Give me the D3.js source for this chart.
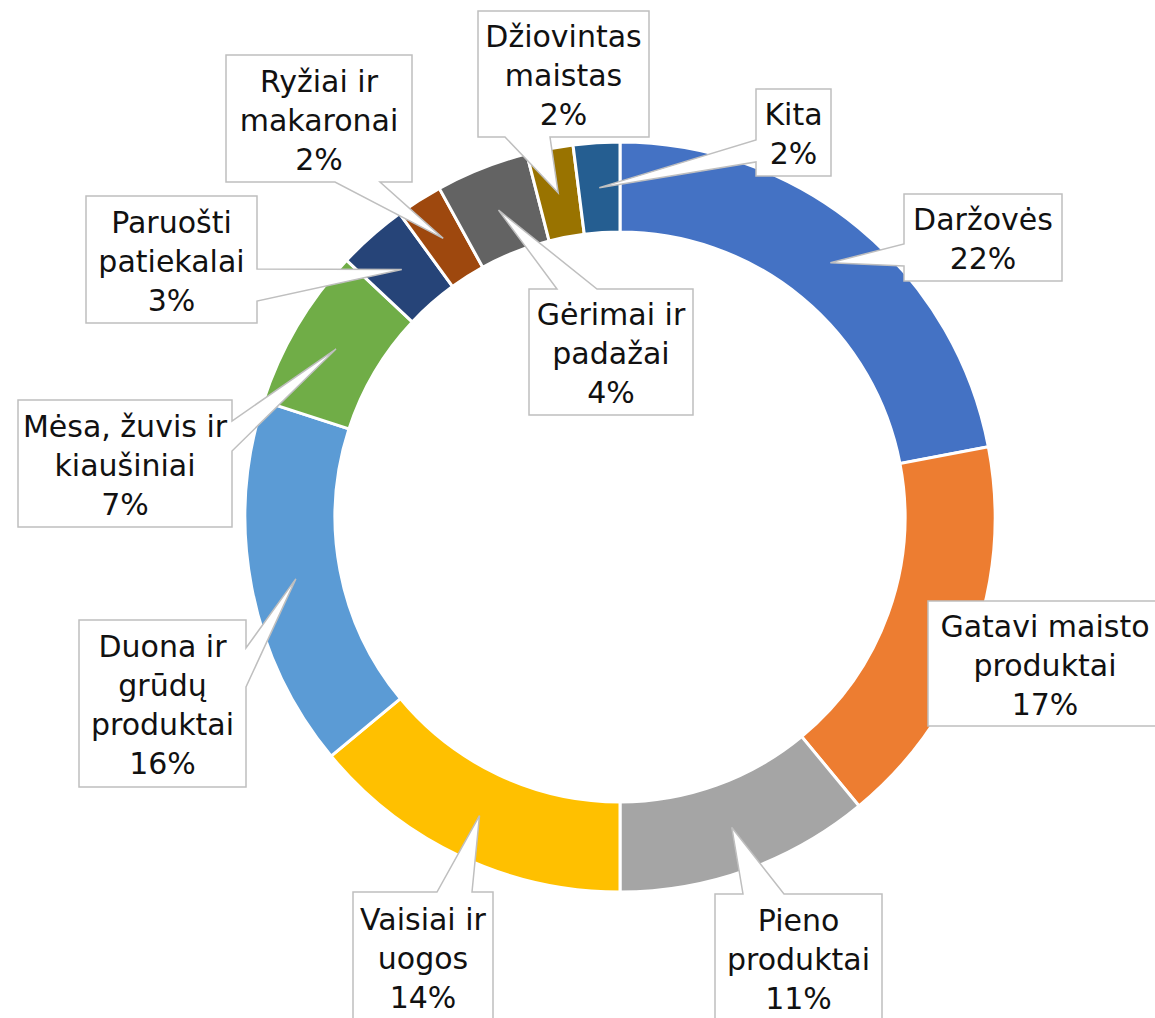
<!DOCTYPE html>
<html>
<head>
<meta charset="utf-8">
<script src="https://cdnjs.cloudflare.com/ajax/libs/d3/7.8.5/d3.min.js"></script>
<style>
  body { margin: 0; background: #fff; }
  svg { display: block; }
</style>
</head>
<body>
<div class="canvas"></div>
<script>
// data
const categories = ['Daržovės', 'Gatavi maisto produktai', 'Pieno produktai', 'Vaisiai ir uogos',
  'Duona ir grūdų produktai', 'Mėsa, žuvis ir kiaušiniai', 'Paruošti patiekalai',
  'Ryžiai ir makaronai', 'Gėrimai ir padažai', 'Džiovintas maistas', 'Kita']
const shares = [22, 17, 11, 14, 16, 7, 3, 2, 4, 2, 2]
const labelLines = [['Daržovės'], ['Gatavi maisto', 'produktai'], ['Pieno', 'produktai'],
  ['Vaisiai ir', 'uogos'], ['Duona ir', 'grūdų', 'produktai'], ['Mėsa, žuvis ir', 'kiaušiniai'],
  ['Paruošti', 'patiekalai'], ['Ryžiai ir', 'makaronai'], ['Gėrimai ir', 'padažai'],
  ['Džiovintas', 'maistas'], ['Kita']]
const colours = ['#4472C4', '#ED7D31', '#A5A5A5', '#FFC000', '#5B9BD5', '#70AD47',
  '#264478', '#9E480E', '#636363', '#997300', '#255E91']

// callout boxes: box corners, side the pointer leaves from, and pointer base on that side
const callouts = [
  {x0: 904, y0: 194, x1: 1062, y1: 281, side: 'left', b0: 244, b1: 266},
  {x0: 928, y0: 601, x1: 1162, y1: 726, side: null},
  {x0: 715, y0: 894, x1: 882, y1: 1022, side: 'top', b0: 743, b1: 784},
  {x0: 353, y0: 892, x1: 493, y1: 1022, side: 'top', b0: 437, b1: 472},
  {x0: 79, y0: 620, x1: 246, y1: 787, side: 'right', b0: 648, b1: 687},
  {x0: 18, y0: 400, x1: 232, y1: 527, side: 'right', b0: 421, b1: 451},
  {x0: 86, y0: 196, x1: 257, y1: 323, side: 'right', b0: 269, b1: 301},
  {x0: 226, y0: 55, x1: 412, y1: 182, side: 'bottom', b0: 335, b1: 380},
  {x0: 529, y0: 289, x1: 693, y1: 415, side: 'top', b0: 557, b1: 597},
  {x0: 478, y0: 11, x1: 649, y1: 137, side: 'bottom', b0: 505, b1: 550},
  {x0: 756, y0: 89, x1: 831, y1: 176, side: 'left', b0: 140, b1: 162}
]

const dims = {width: 1155, height: 1018, outer: 375, inner: 285}
const cent = {x: 620, y: 517}
const fontSize = 30, lineH = 39

const svg = d3.select('.canvas')
  .append('svg')
  .attr('width', dims.width)
  .attr('height', dims.height)

const graph = svg.append('g')
  .attr('transform', `translate(${cent.x},${cent.y})`)

const pie = d3.pie().sort(null).value(d => d)
const arcPath = d3.arc().outerRadius(dims.outer).innerRadius(dims.inner)

const slices = pie(shares)
const total = d3.sum(shares)

graph.selectAll('path')
  .data(slices)
  .enter()
  .append('path')
  .attr('d', arcPath)
  .attr('fill', (d, i) => colours[i])
  .attr('stroke', '#fff')
  .attr('stroke-width', 3)

const calloutPath = (b, tip) => {
  const pts = [[b.x0, b.y0]]
  if (b.side == 'top') pts.push([b.b0, b.y0], tip, [b.b1, b.y0])
  pts.push([b.x1, b.y0])
  if (b.side == 'right') pts.push([b.x1, b.b0], tip, [b.x1, b.b1])
  pts.push([b.x1, b.y1])
  if (b.side == 'bottom') pts.push([b.b1, b.y1], tip, [b.b0, b.y1])
  pts.push([b.x0, b.y1])
  if (b.side == 'left') pts.push([b.x0, b.b1], tip, [b.x0, b.b0])
  return 'M' + pts.map(p => p.join(',')).join('L') + 'Z'
}

const labels = svg.append('g')

slices.forEach((d, i) => {
  const b = callouts[i]
  const c = arcPath.centroid(d)
  const tip = [c[0] + cent.x, c[1] + cent.y]
  const lines = labelLines[i].concat([Math.round(d.data / total * 100) + '%'])

  const g = labels.append('g').attr('class', 'callout')
  g.append('path')
    .attr('d', calloutPath(b, tip))
    .attr('fill', '#fff')
    .attr('stroke', '#BFBFBF')
    .attr('stroke-width', 1.5)
    .attr('stroke-linejoin', 'miter')

  const cx = (b.x0 + b.x1) / 2, cy = (b.y0 + b.y1) / 2
  g.append('text')
    .attr('text-anchor', 'middle')
    .attr('font-family', '"DejaVu Sans", sans-serif')
    .attr('font-size', fontSize)
    .attr('fill', '#111')
    .selectAll('tspan')
    .data(lines)
    .enter()
    .append('tspan')
    .attr('x', cx)
    .attr('y', (t, j) => cy + (j - (lines.length - 1) / 2) * lineH + 12)
    .text(t => t)
})
</script>
</body>
</html>
